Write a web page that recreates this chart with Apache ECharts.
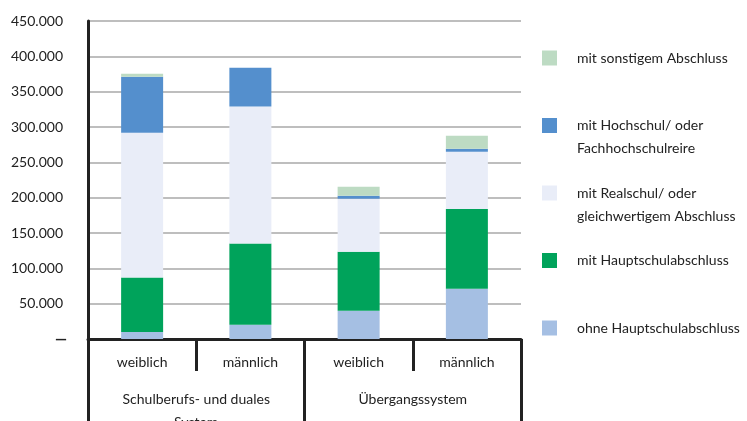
<!DOCTYPE html>
<html>
<head>
<meta charset="utf-8">
<script src="https://cdn.jsdelivr.net/npm/echarts@6/dist/echarts.min.js"></script>
<style>
html,body{margin:0;padding:0;background:#fff;}
#c{width:747px;height:421px;}
</style>
</head>
<body>
<div id="c"></div>
<script>
var categories = ['weiblich', 'männlich', 'weiblich', 'männlich'];
var groups = ['Schulberufs- und duales\nSystem', 'Übergangssystem'];
var seriesNames = ['ohne Hauptschulabschluss', 'mit Hauptschulabschluss', 'mit Realschul/ oder gleichwertigem Abschluss', 'mit Hochschul/ oder Fachhochschulreire', 'mit sonstigem Abschluss'];
var legendLabels = ['ohne Hauptschulabschluss', 'mit Hauptschulabschluss', 'mit Realschul/ oder\ngleichwertigem Abschluss', 'mit Hochschul/ oder\nFachhochschulreire', 'mit sonstigem Abschluss'];
var ohne = [10000, 20000, 40000, 71000];
var haupt = [77000, 115000, 83500, 113000];
var real = [205000, 194000, 75000, 81000];
var hoch = [79000, 55000, 4200, 4200];
var sonst = [4500, 0, 12700, 18400];
var yTicks = [0, 50000, 100000, 150000, 200000, 250000, 300000, 350000, 400000, 450000];

var colors = ['#A5BFE3', '#00A35B', '#E9EDF8', '#548FCD', '#BDDBC3'];
var values = [ohne, haupt, real, hoch, sonst];
var font = 'Lato, "Open Sans", sans-serif';
var txt = '#222222';

var chart = echarts.init(document.getElementById('c'), null, {renderer: 'canvas'});
var series = seriesNames.map(function (n, i) {
  return {
    name: n, type: 'bar', stack: 'a', data: values[i], barWidth: 42,
    itemStyle: {color: colors[i]}, xAxisIndex: 0, yAxisIndex: 0
  };
});

chart.setOption({
  animation: false,
  backgroundColor: '#fff',
  grid: {left: 88, right: 226, top: 21, bottom: 82, containLabel: false, outerBoundsMode: 'none'},
  legend: {
    orient: 'vertical', left: 542, top: 23.5, padding: 0,
    itemWidth: 15, itemHeight: 15, itemGap: -1.5, icon: 'rect',
    data: [seriesNames[4], seriesNames[3], seriesNames[2], seriesNames[1], seriesNames[0]],
    formatter: function (name) {
      var t = legendLabels[seriesNames.indexOf(name)];
      return t.indexOf('\n') >= 0 ? ' \n' + t : ' \n' + t + '\n ';
    },
    textStyle: {fontFamily: font, fontSize: 14, color: txt, lineHeight: 23, padding: [0, 0, 0, 15]},
    selectedMode: false
  },
  xAxis: [{
    type: 'category', data: categories, position: 'bottom',
    axisLine: {show: true, lineStyle: {color: '#222', width: 3}},
    axisTick: {show: true, length: 32, interval: 0, lineStyle: {color: '#222', width: 3}},
    axisLabel: {fontFamily: font, fontSize: 14, color: txt, margin: 16, interval: 0},
    splitLine: {show: false}
  }, {
    type: 'category', data: groups, position: 'bottom',
    axisLine: {show: false},
    axisTick: {show: true, length: 82, interval: 0, lineStyle: {color: '#222', width: 3}},
    axisLabel: {fontFamily: font, fontSize: 14, color: txt, margin: 49, lineHeight: 23, interval: 0},
    splitLine: {show: false}
  }],
  yAxis: {
    type: 'value', min: 0, max: 450000, interval: 50000,
    axisLine: {show: true, lineStyle: {color: '#222', width: 3}},
    axisTick: {show: false},
    splitLine: {show: true, lineStyle: {color: '#a8a8a8', width: 1.5}},
    axisLabel: {
      fontFamily: font, fontSize: 14, color: txt, margin: 25,
      formatter: function (v) {
        if (yTicks.indexOf(v) < 0) return '';
        return v === 0 ? '{d|—}' : (v / 1000) + '.000';
      },
      rich: {d: {fontFamily: font, fontSize: 15, fontWeight: 900, color: '#222', padding: [0, -4, 0, 0]}}
    }
  },
  series: series
});
</script>
</body>
</html>
